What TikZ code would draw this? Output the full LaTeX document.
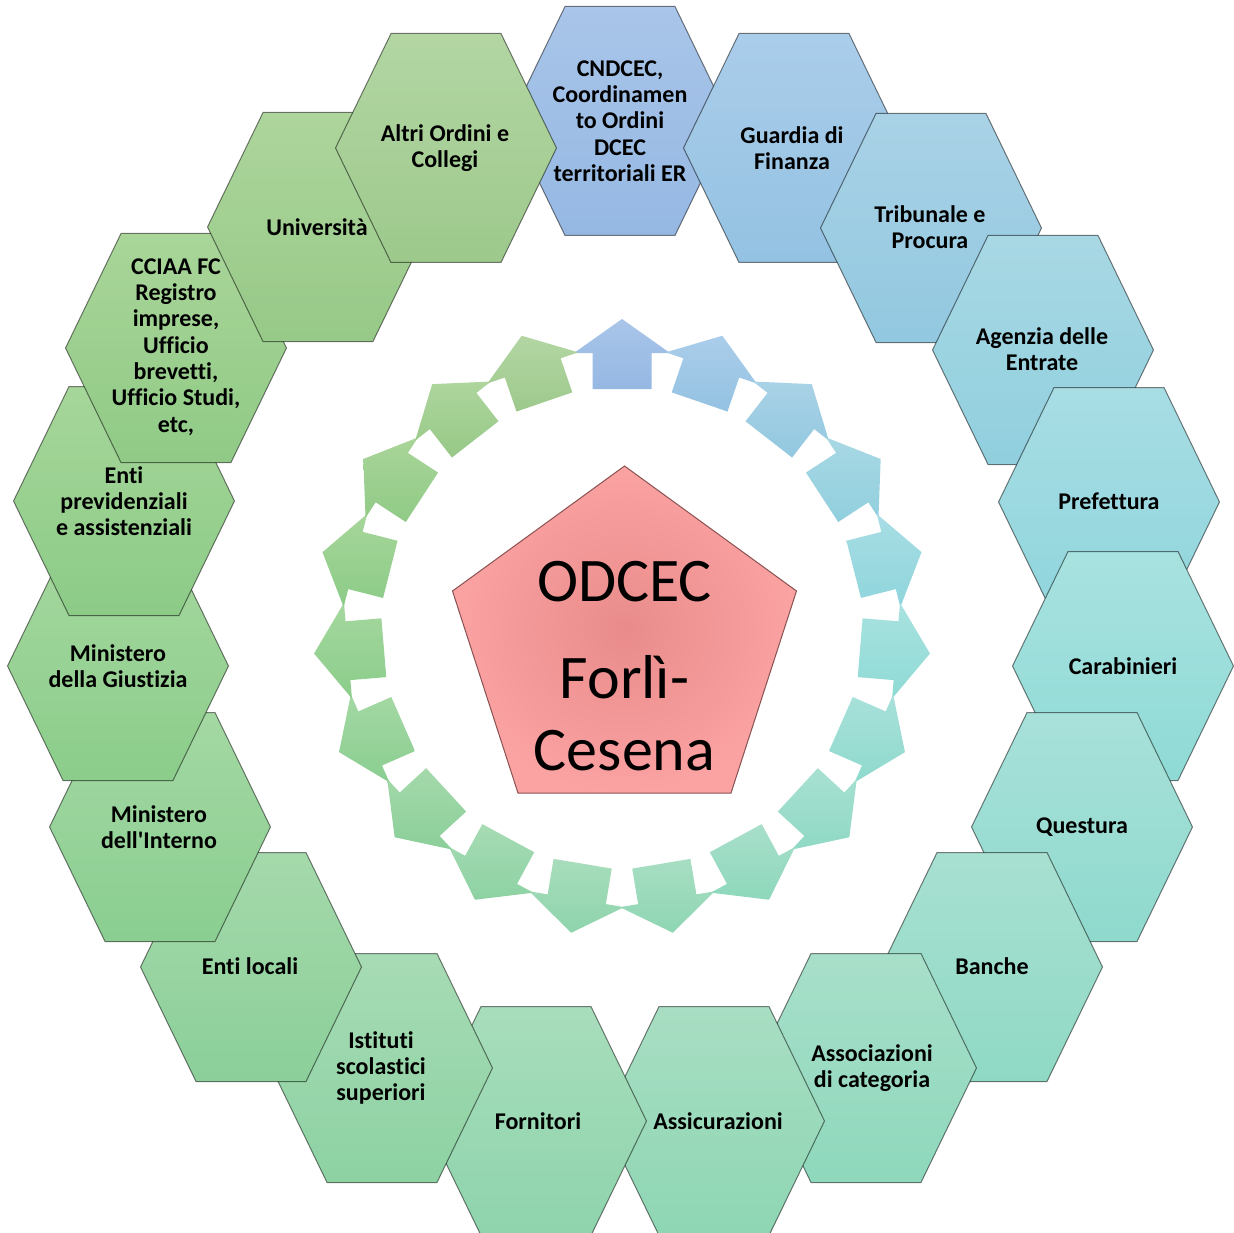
\documentclass[tikz,border=0pt]{standalone}
\usepackage{fontspec}
\setmainfont{Carlito}[Ligatures={NoCommon}]
\usetikzlibrary{calc}
% gradient colours, index k runs clockwise from the top
\definecolor{t0}{HTML}{A9C5E9}\definecolor{b0}{HTML}{95B8E3}
\definecolor{t1}{HTML}{AACDEA}\definecolor{b1}{HTML}{94C2E2}
\definecolor{t2}{HTML}{A9D2E6}\definecolor{b2}{HTML}{92C8E0}
\definecolor{t3}{HTML}{A8D8E4}\definecolor{b3}{HTML}{91CFDE}
\definecolor{t4}{HTML}{A8DDE4}\definecolor{b4}{HTML}{90D5DC}
\definecolor{t5}{HTML}{A8E2E0}\definecolor{b5}{HTML}{8FDAD5}
\definecolor{t6}{HTML}{A8E1DA}\definecolor{b6}{HTML}{8FD9CD}
\definecolor{t7}{HTML}{A8E0D1}\definecolor{b7}{HTML}{8FD9C4}
\definecolor{t8}{HTML}{A8DFCA}\definecolor{b8}{HTML}{8ED8BC}
\definecolor{t9}{HTML}{A8DEC3}\definecolor{b9}{HTML}{8ED6B4}
\definecolor{t10}{HTML}{A8DDBC}\definecolor{b10}{HTML}{8ED4AC}
\definecolor{t11}{HTML}{A7DBB4}\definecolor{b11}{HTML}{8DD2A3}
\definecolor{t12}{HTML}{A5D9AB}\definecolor{b12}{HTML}{8BCF9A}
\definecolor{t13}{HTML}{A4D8A3}\definecolor{b13}{HTML}{8ACE91}
\definecolor{t14}{HTML}{A5D79E}\definecolor{b14}{HTML}{8BCD8B}
\definecolor{t15}{HTML}{A6D69A}\definecolor{b15}{HTML}{8CCB87}
\definecolor{t16}{HTML}{A9D599}\definecolor{b16}{HTML}{90CA86}
\definecolor{t17}{HTML}{ADD59C}\definecolor{b17}{HTML}{97C988}
\definecolor{t18}{HTML}{B3D6A3}\definecolor{b18}{HTML}{9DC98C}
\definecolor{pinkin}{HTML}{E98B8B}
\definecolor{pinkout}{HTML}{FBA2A2}
\definecolor{pentline}{HTML}{8A5252}
\newcommand\hexcell[3]{%
  \shadedraw[hexbox,top color=t#3,bottom color=b#3]
    (#1-110.5,#2) -- (#1-55,#2-114.5) -- (#1+55,#2-114.5) --
    (#1+110.5,#2) -- (#1+55,#2+114.5) -- (#1-55,#2+114.5) -- cycle;}
\begin{document}
\begin{tikzpicture}[x=1pt,y=-1pt,
  hexbox/.style={draw=black,draw opacity=0.5,line width=1pt},
  hextext/.style={font=\fontsize{24}{26.3}\selectfont\bfseries,align=center,inner sep=0pt,text=black},
  pentext/.style={font=\fontsize{62}{72}\selectfont,inner sep=0pt,anchor=base,text=black}]
\useasboundingbox (0,0) rectangle (1234,1233);
\clip (0,0) rectangle (1234,1233);
\fill[white] (0,0) rectangle (1234,1233);
% ring of arrows
\coordinate (C) at (622,628);
\foreach \k in {0,...,18}{
  \pgfmathsetmacro\th{90-\k*360/19}
  \shade[top color=t\k,bottom color=b\k]
    ($(C)+(\th:309pt)$) --
    ($(C)+(\th:275pt)+(\th-90:48pt)$) --
    ($(C)+(\th:275pt)+(\th-90:29.5pt)$) --
    ($(C)+(\th:239pt)+(\th-90:29.5pt)$) --
    ($(C)+(\th:239pt)+(\th+90:29.5pt)$) --
    ($(C)+(\th:275pt)+(\th+90:29.5pt)$) --
    ($(C)+(\th:275pt)+(\th+90:48pt)$) -- cycle;
}
% hexagons, clockwise from the top
\hexcell{620}{121}{0}
\node[hextext] (h0) at (620,121) {CNDCEC,\\Coordinamen\\to Ordini\\DCEC\\territoriali ER};
\hexcell{794}{148}{1}
\node[hextext] (h1) at (792,148) {Guardia di\\Finanza};
\hexcell{931}{228}{2}
\node[hextext] (h2) at (930,227) {Tribunale e\\Procura};
\hexcell{1043}{350}{3}
\node[hextext] (h3) at (1042,349) {Agenzia delle\\Entrate};
\hexcell{1109}{502}{4}
\node[hextext] (h4) at (1109,501) {Prefettura};
\hexcell{1123}{666}{5}
\node[hextext] (h5) at (1123,666) {Carabinieri};
\hexcell{1082}{827}{6}
\node[hextext] (h6) at (1082,827) {Questura};
\hexcell{992}{967}{7}
\node[hextext] (h7) at (992,966) {Banche};
\hexcell{866}{1068}{8}
\node[hextext] (h8) at (872,1068) {Associazioni\\di categoria};
\hexcell{714}{1121}{9}
\node[hextext] (h9) at (718,1121) {Assicurazioni};
\hexcell{536}{1121}{10}
\node[hextext] (h10) at (538,1121) {Fornitori};
\hexcell{382}{1068}{11}
\node[hextext] (h11) at (381,1068) {Istituti\\scolastici\\superiori};
\hexcell{251}{967}{12}
\node[hextext] (h12) at (250,966) {Enti locali};
\hexcell{160}{827}{13}
\node[hextext] (h13) at (159,827) {Ministero\\dell\textquotesingle Interno};
\hexcell{118}{666}{14}
\node[hextext] (h14) at (118,666) {Ministero\\della Giustizia};
\hexcell{124}{501}{15}
\node[hextext] (h15) at (124,501) {Enti\\previdenziali\\e assistenziali};
\hexcell{176}{348}{16}
\node[hextext] (h16) at (176,347) {CCIAA FC\\Registro\\imprese,\\Ufficio\\brevetti,\\Ufficio Studi,\\etc,};
\hexcell{318}{227}{17}
\node[hextext] (h17) at (317,227) {Università};
\hexcell{446}{148}{18}
\node[hextext] (h18) at (445,148) {Altri Ordini e\\Collegi};
% central pentagon
\shadedraw[inner color=pinkin,outer color=pinkout,draw=pentline,line width=1pt]
  (624.5,466) -- (796.5,591) -- (731,793) -- (518,793) -- (452.5,591) -- cycle;
\node[pentext] (p1) at (624.5,601) {ODCEC};
\node[pentext] (p2) at (624.5,698) {Forlì-};
\node[pentext] (p3) at (624.5,770) {Cesena};
\end{tikzpicture}
\end{document}
